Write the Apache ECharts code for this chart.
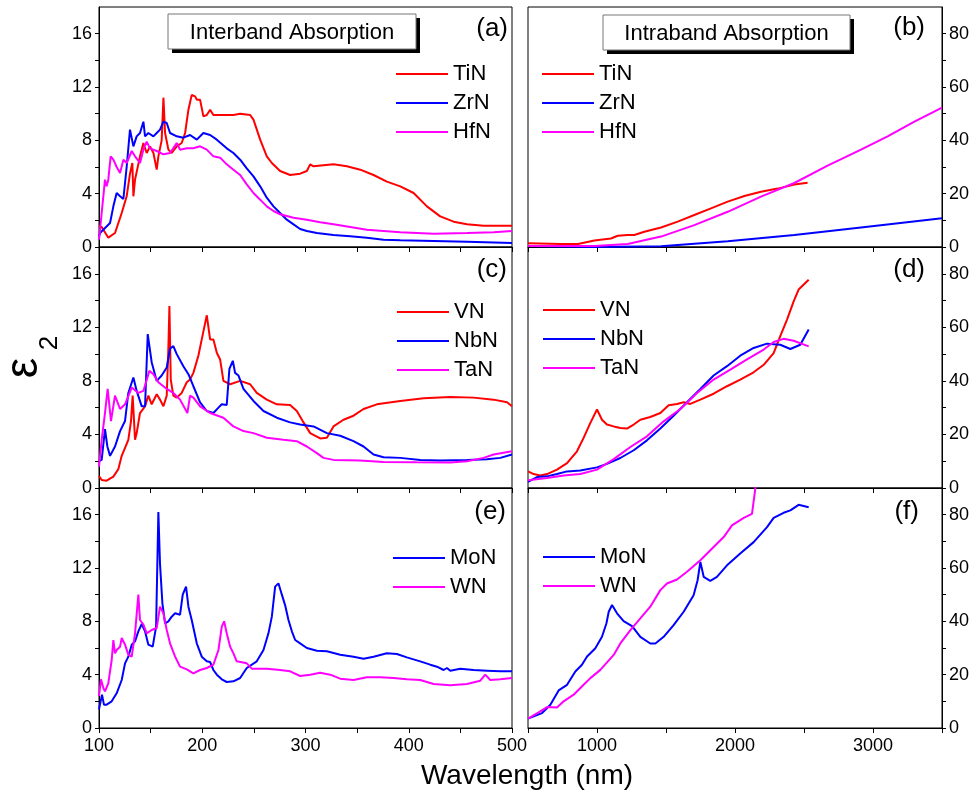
<!DOCTYPE html>
<html>
<head>
<meta charset="utf-8">
<script src="https://cdn.jsdelivr.net/npm/echarts@6.0.0/dist/echarts.min.js"></script>
<style>
  html, body { margin: 0; padding: 0; background: #fff; }
  #eps-chart { width: 976px; height: 797px; }
</style>
</head>
<body>
<div id="eps-chart"></div>
<script>
const myChart = echarts.init(document.getElementById('eps-chart'));

// tick values
const leftXTicks = [100, 150, 200, 250, 300, 350, 400, 450, 500];
const leftXLabels = [100, 200, 300, 400, 500];
const rightXTicks = [500, 1000, 1500, 2000, 2500, 3000, 3500];
const rightXLabels = [1000, 2000, 3000];
const leftYTicks = [0, 2, 4, 6, 8, 10, 12, 14, 16];
const leftYLabels = [0, 4, 8, 12, 16];
const rightYTicks = [0, 10, 20, 30, 40, 50, 60, 70, 80];
const rightYLabels = [0, 20, 40, 60, 80];

// (a) interband, [wavelength nm, eps2]
const tinA = [[100,1.55],[102.6,1.5],[109,0.7],[115.5,1.05],[122,2.55],[126.8,3.8],[130,5.5],[132.3,6.3],[133.3,3.8],[134.9,5.05],[139.7,6.8],[143,7.8],[146.2,7.05],[149.4,7.55],[152.7,7.05],[155.9,5.8],[157.5,6.8],[160.7,8],[162.4,11.2],[164,8.55],[167.2,7.3],[170.4,7.05],[175.3,7.55],[180.1,7.8],[183.4,8.55],[186.6,10.3],[189.8,11.4],[193.1,11.3],[194.7,11.05],[197.9,11.05],[201.1,9.8],[204.4,9.9],[207.6,10.3],[210.8,9.9],[217.3,9.9],[223.7,9.9],[230.2,9.9],[236.7,10],[246.4,9.9],[249.6,9.55],[256.1,8.05],[262.5,6.8],[267.4,6.3],[275.4,5.7],[285.1,5.4],[294.8,5.5],[301.3,5.7],[304.5,6.2],[307.8,6.05],[327.1,6.2],[340.1,6.05],[353,5.8],[365.9,5.4],[378.8,4.9],[391.8,4.55],[404.7,4.05],[417.6,3.05],[430.5,2.3],[443.5,1.9],[456.4,1.7],[472.5,1.6],[500,1.6]];
const zrnA = [[100,0.8],[101,1.05],[110.7,1.8],[113.9,3.05],[117.1,4.05],[120.4,3.8],[123.6,3.6],[126.8,6],[130,8.8],[133.3,7.55],[136.5,8.3],[139.7,8.55],[143,9.4],[144.6,8.3],[147.8,8.55],[152.7,8.3],[155.9,8.55],[159.1,8.8],[162.4,9.4],[165.6,9.3],[168.8,8.55],[175.3,8.3],[181.7,8.2],[188.2,8.4],[194.7,8.05],[201.1,8.55],[207.6,8.4],[214.1,8.05],[223.7,7.4],[230.2,7.05],[236.7,6.55],[243.1,5.9],[249.6,5.3],[256.1,4.55],[262.5,3.7],[269,3.05],[275.4,2.55],[281.9,2.05],[288.4,1.7],[294.8,1.35],[301.3,1.2],[311,1.05],[327.1,0.9],[343.3,0.8],[359.4,0.7],[375.6,0.55],[391.8,0.5],[424.1,0.45],[456.4,0.4],[500,0.3]];
const hfnA = [[100,0.55],[102.6,2.55],[105.8,5.05],[107.4,4.55],[109,5.05],[111.3,6.8],[113.9,6.55],[117.1,6],[120.4,5.55],[123.6,6.55],[126.8,6.3],[131.7,7.2],[134.9,6.8],[139.7,6.3],[143,7.3],[146.2,7.9],[149.4,7.4],[155.9,7.2],[162.4,6.95],[168.8,7.05],[175.3,7.8],[178.5,7.3],[185,7.4],[191.4,7.4],[197.9,7.55],[204.4,7.3],[210.8,6.8],[217.3,6.7],[223.7,6.2],[230.2,5.8],[236.7,5.4],[243.1,4.7],[249.6,4.05],[256.1,3.55],[262.5,3.05],[269,2.7],[275.4,2.45],[288.4,2.2],[301.3,2.05],[314.2,1.85],[327.1,1.7],[343.3,1.5],[359.4,1.3],[375.6,1.2],[391.8,1.1],[424.1,1.0],[456.4,1.05],[482.2,1.1],[500,1.2]];

// (b) intraband
const tinB = [[500,1.4],[741,1.1],[862,1.1],[981,2.4],[1101,3.2],[1150,4.2],[1222,4.5],[1270,4.5],[1343,5.7],[1464,7.3],[1585,9.5],[1705,12],[1826,14.5],[1947,17],[2068,19.1],[2188,20.7],[2309,21.9],[2430,23.4],[2526,24.1]];
const zrnB = [[500,0.4],[981,0],[1464,0.3],[1947,2.2],[2430,4.5],[2913,7.3],[3500,10.8]];
const hfnB = [[500,0.4],[981,0.4],[1222,1.1],[1464,3.9],[1705,8.2],[1947,13.2],[2188,18.9],[2430,24],[2671,30.5],[2913,36.5],[3106,41.5],[3300,47],[3500,52.3]];

// (c) interband
const vnC = [[100,0.9],[102.6,0.6],[107.4,0.55],[113.9,0.85],[118.7,1.4],[122,2.4],[128.4,3.6],[131,5],[132.6,6.9],[134.9,3.6],[136.5,4.1],[139.7,5.6],[144.6,6.1],[147.8,6.9],[151,6.25],[155.9,7],[159.1,6.6],[162.4,6.1],[165.6,6.9],[167.2,10.5],[168.2,13.6],[169.5,8.1],[172,6.9],[175.3,6.75],[180.1,7.1],[185,7.9],[188.2,8.1],[191.4,8.6],[196.3,9.9],[199.5,11.1],[204.4,12.9],[207.6,11.1],[210.8,11.1],[214.1,10.1],[217.3,9.6],[220.5,8],[227,7.75],[236.7,8],[246.4,7.75],[252.8,7.1],[262.5,6.6],[272.2,6.25],[285.1,6.2],[291.6,5.75],[298.1,4.9],[304.5,4.1],[314.2,3.7],[320.7,3.75],[327.1,4.6],[336.8,5.1],[346.5,5.4],[356.2,5.9],[369.1,6.25],[391.8,6.5],[414.4,6.7],[440.2,6.8],[462.8,6.75],[482.2,6.6],[495.2,6.4],[500,6.1]];
const nbnC = [[100,2],[102.6,2.1],[105.8,4.4],[108.1,3.1],[110.7,2.4],[115.5,3.1],[120.4,4.25],[125.2,5],[128.4,7.1],[133.3,8.25],[136.5,7.25],[141.4,6.1],[144.6,6.1],[147.2,11.5],[151,9.4],[155.9,8],[160.7,8.4],[165.6,9],[168.8,10.4],[172,10.6],[175.3,10],[181.7,9.1],[186.6,8.5],[191.4,7.6],[197.9,6.4],[204.4,5.75],[210.8,5.6],[215.7,6],[218.9,6.25],[223.7,6.2],[226.3,8.9],[229.6,9.5],[231.8,8.6],[235.1,8.4],[239.9,7.4],[249.6,6.5],[259.3,5.75],[272.2,5.25],[285.1,4.9],[294.8,4.75],[307.8,4.6],[320.7,4.1],[333.6,3.9],[346.5,3.5],[356.2,3.1],[365.9,2.5],[375.6,2.3],[391.8,2.25],[411.1,2.1],[430.5,2.05],[456.4,2.1],[475.8,2.15],[488.7,2.25],[500,2.5]];
const tanC = [[100,1.6],[102.6,3.6],[105.8,5.6],[108.4,7.4],[111.6,5],[115.5,6.9],[120.4,5.9],[125.2,6.25],[131.7,7.5],[138.1,7.1],[143,7.25],[148.8,8.75],[152.7,8.5],[157.5,7.9],[165.6,7.4],[172,7.1],[178.5,6.6],[185.6,5.6],[188.2,6.9],[191.4,6.75],[197.9,6.1],[207.6,5.6],[220.5,5.25],[230.2,4.6],[239.9,4.25],[249.6,4.1],[262.5,3.75],[278.7,3.6],[291.6,3.5],[301.3,3.1],[311,2.6],[317.4,2.25],[327.1,2.1],[353,2.05],[375.6,1.95],[407.9,1.92],[440.2,1.9],[456.4,2],[472.5,2.25],[482.2,2.5],[500,2.75]];

// (d) intraband
const vnD = [[500,6.2],[541,5.2],[589,4.7],[638,5.2],[710,6.85],[783,9.3],[855,13.7],[903,18.7],[952,24.3],[1000,29.3],[1036,25.5],[1072,23.7],[1121,23],[1169,22.4],[1217,22.2],[1266,23.7],[1314,25.5],[1386,26.5],[1459,28],[1519,30.9],[1580,31.4],[1628,32],[1676,31.4],[1749,33],[1845,35.2],[1942,38],[2038,40.5],[2135,43.2],[2208,46],[2280,50.4],[2328,56.7],[2377,62.9],[2425,69.7],[2461,74.1],[2534,77.8]];
const nbnD = [[500,2.25],[565,4.1],[638,4.35],[710,5.2],[783,6.2],[879,6.5],[1000,7.7],[1072,9],[1169,11.2],[1266,14.1],[1362,17.8],[1459,22.2],[1555,27],[1652,32],[1749,37],[1845,42],[1942,45.5],[2038,49.4],[2135,52.3],[2232,53.9],[2328,53.5],[2401,51.9],[2473,53.5],[2534,59.2]];
const tanD = [[500,2.9],[638,3.7],[758,4.7],[879,5.2],[1000,6.85],[1121,10.8],[1242,15.3],[1362,19.3],[1483,24.9],[1604,29.5],[1725,35.5],[1845,40.5],[1966,44.2],[2087,48],[2208,51.7],[2280,54.5],[2352,55.7],[2425,55],[2534,52.9]];

// (e) interband
const monE = [[100,1.4],[101.6,1.5],[102.9,2.5],[104.8,1.75],[107.4,1.75],[112.3,2],[117.1,2.6],[122,3.6],[125.2,4.85],[128.4,5.35],[131.7,6.25],[134.9,6.5],[138.1,7.25],[141.4,7.8],[144.6,7.25],[147.8,6.25],[152,6.1],[155.3,7.6],[157.5,16.2],[159.1,12.3],[161.4,9.35],[164,7.85],[167.2,8],[170.4,8.35],[173.7,8.6],[178.5,8.5],[181.1,10],[184.3,10.6],[186.6,9.1],[189.8,8.1],[194.7,6.35],[199.5,5.35],[204.4,5],[207.6,4.95],[210.8,4.35],[214.1,4],[218.9,3.65],[223.7,3.45],[230.2,3.5],[236.7,3.75],[243.1,4.5],[252.8,5],[259.3,5.85],[264.1,7.1],[267.4,8.35],[270.6,10.6],[273.8,10.85],[277.1,10],[280.3,9.2],[283.5,8.1],[286.8,7.25],[290,6.6],[294.8,6.35],[301.3,6],[311,5.8],[320.7,5.75],[333.6,5.5],[346.5,5.35],[356.2,5.2],[365.9,5.35],[378.8,5.6],[388.5,5.55],[398.2,5.3],[411.1,5],[420.8,4.75],[427.3,4.6],[433.8,4.35],[437,4.5],[440.2,4.3],[449.9,4.45],[462.8,4.35],[475.8,4.3],[488.7,4.25],[500,4.25]];
const wnE = [[100,2.4],[101.9,3.65],[104.2,3],[105.8,2.75],[109,3.35],[112.3,5.1],[113.9,6.6],[115.5,5.6],[117.1,5.85],[120.4,6.1],[122,6.75],[125.2,6.25],[128.4,5.5],[131.7,5.35],[134.9,7.1],[138.1,10],[139.7,8.1],[143,7.75],[146.2,7.1],[151,7.35],[155.9,7.5],[159.1,9.1],[162.4,8.6],[165.6,7.35],[168.8,6.35],[173.7,5.35],[178.5,4.6],[185,4.4],[191.4,4.1],[197.9,4.35],[204.4,4.5],[210.8,4.75],[215.7,5.85],[218.9,7.6],[221.2,8],[223.7,7.1],[227,6.1],[230.2,5.6],[233.4,5],[243.1,4.85],[248,4.45],[262.5,4.45],[275.4,4.35],[285.1,4.25],[294.8,3.9],[304.5,4],[314.2,4.15],[323.9,4],[333.6,3.7],[346.5,3.6],[359.4,3.8],[372.4,3.8],[385.3,3.75],[398.2,3.65],[411.1,3.6],[424.1,3.3],[440.2,3.2],[456.4,3.3],[469.3,3.55],[474.1,4],[479,3.6],[488.7,3.65],[500,3.75]];

// (f) intraband
const monF = [[500,3.5],[602,5.6],[662,8.7],[722,14.1],[783,16.2],[843,21.2],[891,23.7],[928,26.8],[988,29.9],[1036,34.2],[1068,39.2],[1085,43.6],[1109,46.1],[1145,43],[1193,40.1],[1254,38.2],[1314,34.2],[1386,31.7],[1423,31.7],[1483,34.2],[1555,38.6],[1628,43.6],[1700,49.8],[1729,55.4],[1749,62.3],[1773,56.7],[1821,55.2],[1869,56.7],[1942,61],[2038,65.4],[2135,69.7],[2232,75.3],[2280,78.8],[2352,80.7],[2401,81.6],[2461,83.7],[2534,82.8]];
const wnF = [[500,3.5],[577,5.85],[638,7.85],[710,7.7],[758,10],[831,12.5],[903,16.2],[952,18.7],[1024,21.8],[1121,27.4],[1169,31.7],[1242,36.7],[1314,41.1],[1386,45.5],[1459,51.7],[1507,54.2],[1580,55.7],[1652,58.6],[1749,62.9],[1845,67.9],[1918,71.6],[1978,76],[2063,78.8],[2123,80.3],[2147,89.7],[2155,95]];

const RED = '#ff0000';
const BLUE = '#0000ff';
const MAGENTA = '#ff00ff';
const FONT = 'Liberation Sans, Arial, sans-serif';

const grids = [
  { left: 99, top: 7, width: 413, height: 240 },
  { left: 528, top: 7, width: 414, height: 240 },
  { left: 99, top: 247, width: 413, height: 241 },
  { left: 528, top: 247, width: 414, height: 241 },
  { left: 99, top: 488, width: 413, height: 240 },
  { left: 528, top: 488, width: 414, height: 240 }
].map(function (g) {
  return Object.assign({ show: true, borderColor: '#000', borderWidth: 1, backgroundColor: 'transparent' }, g);
});

function plain(v) {
  return String(v);
}

function xAxis(gridIndex, left, showLabel) {
  return {
    type: 'value',
    gridIndex: gridIndex,
    min: left ? 100 : 500,
    max: left ? 500 : 3500,
    axisLine: { lineStyle: { color: '#000', width: 1 } },
    axisTick: { show: true, length: 5, customValues: left ? leftXTicks : rightXTicks, lineStyle: { color: '#000' } },
    axisLabel: { show: showLabel, customValues: left ? leftXLabels : rightXLabels, formatter: plain, fontSize: 18, color: '#000', fontFamily: FONT, margin: 9 },
    splitLine: { show: false }
  };
}

function yAxis(gridIndex, left) {
  return {
    type: 'value',
    gridIndex: gridIndex,
    position: left ? 'left' : 'right',
    min: 0,
    max: left ? 18 : 90,
    axisLine: { show: true, lineStyle: { color: '#000', width: 1 } },
    axisTick: { show: true, length: 4, customValues: left ? leftYTicks : rightYTicks, lineStyle: { color: '#000' } },
    axisLabel: { customValues: left ? leftYLabels : rightYLabels, formatter: plain, fontSize: 18, color: '#000', fontFamily: FONT, margin: 7 },
    splitLine: { show: false }
  };
}

function line(name, data, idx, color) {
  return {
    name: name,
    type: 'line',
    xAxisIndex: idx,
    yAxisIndex: idx,
    data: data,
    symbol: 'none',
    clip: true,
    lineStyle: { color: color, width: 2 },
    itemStyle: { color: color }
  };
}

function legend(names, left, top) {
  return {
    data: names,
    orient: 'vertical',
    left: left,
    top: top,
    padding: 0,
    itemGap: 7,
    itemWidth: 52,
    itemHeight: 2,
    icon: 'rect',
    selectedMode: false,
    textStyle: { fontSize: 22, color: '#000', fontFamily: FONT }
  };
}

function titleBox(x, y, w, h, text) {
  return [
    { type: 'rect', shape: { x: x + 4, y: y + 4, width: w, height: h }, style: { fill: '#000' } },
    { type: 'rect', shape: { x: x, y: y, width: w, height: h }, style: { fill: '#fff', stroke: '#777', lineWidth: 1 } },
    { type: 'text', x: x + w / 2, y: y + h / 2 + 1, style: { text: text, fill: '#000', fontSize: 22, fontFamily: FONT, align: 'center', verticalAlign: 'middle' } }
  ];
}

function panelLabel(x, y, text) {
  return { type: 'text', x: x, y: y, style: { text: text, fill: '#000', fontSize: 26, fontFamily: FONT, align: 'right', verticalAlign: 'middle' } };
}

let options = {
  animation: false,
  backgroundColor: '#fff',
  grid: grids,
  xAxis: [xAxis(0, true, false), xAxis(1, false, false), xAxis(2, true, false), xAxis(3, false, false), xAxis(4, true, true), xAxis(5, false, true)],
  yAxis: [yAxis(0, true), yAxis(1, false), yAxis(2, true), yAxis(3, false), yAxis(4, true), yAxis(5, false)],
  legend: [
    legend(['TiN', 'ZrN', 'HfN'], 396, 63),
    legend(['TiN', 'ZrN', 'HfN'], 542, 63),
    legend(['VN', 'NbN', 'TaN'], 397, 301),
    legend(['VN', 'NbN', 'TaN'], 543, 299),
    legend(['MoN', 'WN'], 393, 547),
    legend(['MoN', 'WN'], 543, 546)
  ],
  series: [
    line('TiN', tinA, 0, RED), line('ZrN', zrnA, 0, BLUE), line('HfN', hfnA, 0, MAGENTA),
    line('TiN', tinB, 1, RED), line('ZrN', zrnB, 1, BLUE), line('HfN', hfnB, 1, MAGENTA),
    line('VN', vnC, 2, RED), line('NbN', nbnC, 2, BLUE), line('TaN', tanC, 2, MAGENTA),
    line('VN', vnD, 3, RED), line('NbN', nbnD, 3, BLUE), line('TaN', tanD, 3, MAGENTA),
    line('MoN', monE, 4, BLUE), line('WN', wnE, 4, MAGENTA),
    line('MoN', monF, 5, BLUE), line('WN', wnF, 5, MAGENTA)
  ],
  graphic: [].concat(
    titleBox(168, 14, 248, 35, 'Interband Absorption'),
    titleBox(603, 15, 247, 35, 'Intraband Absorption'),
    [
      panelLabel(508, 29, '(a)'),
      panelLabel(925, 28, '(b)'),
      panelLabel(507, 270, '(c)'),
      panelLabel(925, 270, '(d)'),
      panelLabel(506, 512, '(e)'),
      panelLabel(919, 512, '(f)'),
      { type: 'text', x: 24, y: 368, rotation: Math.PI / 2, style: { text: 'ε', fill: '#000', fontSize: 46, fontFamily: FONT, align: 'center', verticalAlign: 'middle' } },
      { type: 'text', x: 50, y: 343, rotation: Math.PI / 2, style: { text: '2', fill: '#000', fontSize: 26, fontFamily: FONT, align: 'center', verticalAlign: 'middle' } },
      { type: 'text', x: 527, y: 776, style: { text: 'Wavelength (nm)', fill: '#000', fontSize: 28, fontFamily: FONT, align: 'center', verticalAlign: 'middle' } }
    ]
  )
};

myChart.setOption(options);

window.addEventListener('resize', () => {
  myChart.resize();
});
</script>
</body>
</html>
